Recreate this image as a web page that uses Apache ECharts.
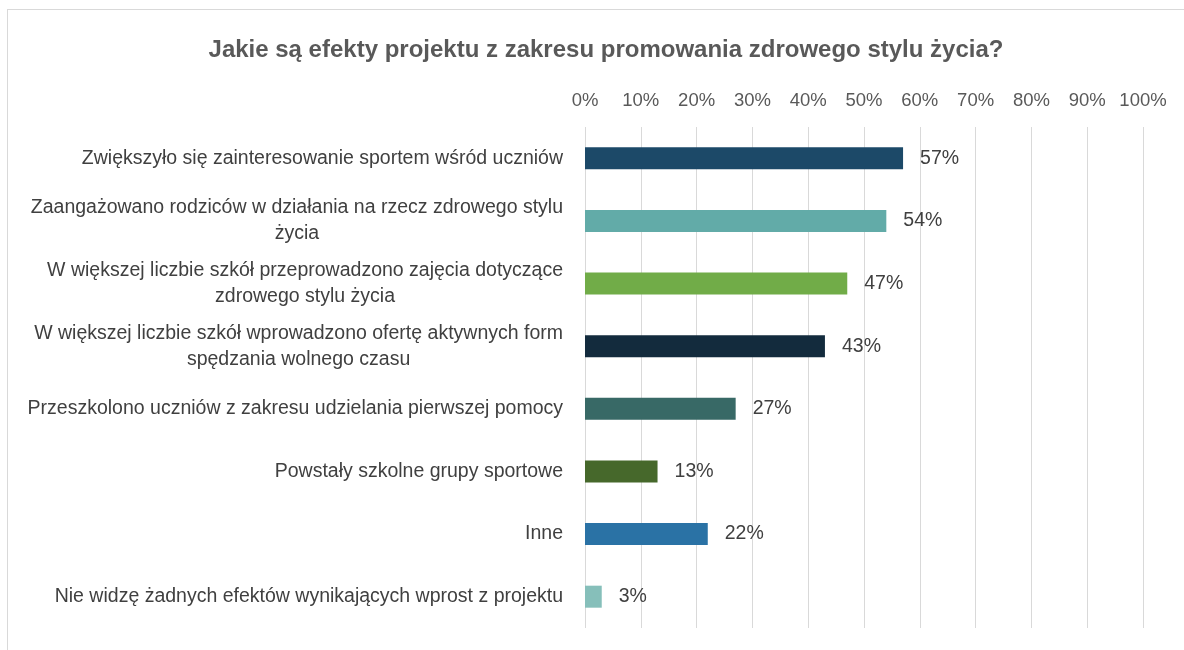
<!DOCTYPE html>
<html>
<head>
<meta charset="utf-8">
<script src="https://cdn.jsdelivr.net/npm/echarts@6/dist/echarts.min.js"></script>
<style>
  html, body { margin: 0; padding: 0; background: #fff; }
  #frame { position: absolute; left: 7px; top: 9px; width: 1200px; height: 700px; border: 1px solid #d9d9d9; }
  #chart { position: absolute; left: 0; top: 0; width: 1184px; height: 650px; }
</style>
</head>
<body>
<div id="frame"></div>
<div id="chart"></div>
<script>
// kategorie (od góry do dołu)
var categories = [
    'Zwiększyło się zainteresowanie sportem wśród uczniów',
    'Zaangażowano rodziców w działania na rzecz zdrowego stylu\nżycia',
    'W większej liczbie szkół przeprowadzono zajęcia dotyczące\nzdrowego stylu życia',
    'W większej liczbie szkół wprowadzono ofertę aktywnych form\nspędzania wolnego czasu',
    'Przeszkolono uczniów z zakresu udzielania pierwszej pomocy',
    'Powstały szkolne grupy sportowe',
    'Inne',
    'Nie widzę żadnych efektów wynikających wprost z projektu'
];
var values = [57, 54, 47, 43, 27, 13, 22, 3];
var barColors = ['#1c4968', '#62aba8', '#71ac48', '#132b3d', '#386966', '#46682b', '#2a72a5', '#86bfba'];

window.onload = function() {
    draw_chart();
}

function draw_chart() {
    var myChart = echarts.init(document.getElementById('chart'));
    var option = {
        animation: false,
        title: {
            text: 'Jakie są efekty projektu z zakresu promowania zdrowego stylu życia?',
            left: 601,
            textAlign: 'center',
            top: 33,
            textStyle: { fontFamily: 'Liberation Sans', fontSize: 24, fontWeight: 'bold', color: '#595959' }
        },
        grid: { left: 585, right: 41, top: 127, bottom: 22, containLabel: false },
        xAxis: {
            type: 'value',
            position: 'top',
            min: 0, max: 100, interval: 10,
            axisLine: { show: false },
            axisTick: { show: false },
            splitLine: { show: true, lineStyle: { color: '#d9d9d9', width: 1 } },
            axisLabel: {
                margin: 17,
                formatter: '{value}%',
                fontFamily: 'Liberation Sans', fontSize: 18.5, color: '#595959'
            }
        },
        yAxis: {
            type: 'category',
            inverse: true,
            data: categories,
            axisLine: { show: false },
            axisTick: { show: false },
            axisLabel: {
                margin: 22,
                align: 'right',
                formatter: function(v) {
                    return v.split('\n').map(function(s) { return '{c|' + s + '}'; }).join('\n');
                },
                rich: {
                    c: { align: 'center', fontFamily: 'Liberation Sans', fontSize: 19.5, color: '#404040', lineHeight: 26 }
                }
            }
        },
        series: [{
            type: 'bar',
            barWidth: 22,
            data: values.map(function(v, i) {
                return { value: v, itemStyle: { color: barColors[i] } };
            }),
            label: {
                show: true,
                position: 'right',
                distance: 17,
                formatter: '{c}%',
                fontFamily: 'Liberation Sans', fontSize: 19.5, color: '#404040'
            }
        }]
    };
    myChart.setOption(option);
}
</script>
</body>
</html>
